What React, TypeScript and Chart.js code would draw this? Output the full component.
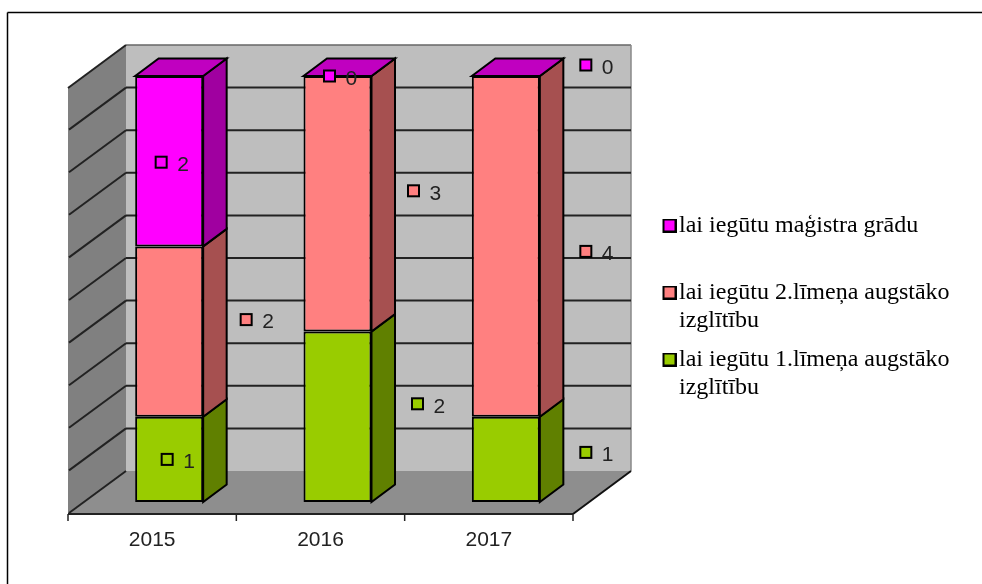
import React, { useEffect, useRef } from "react";
import { Chart, registerables } from "chart.js";

Chart.register(...registerables);

const years = ["2015", "2016", "2017"];
const level1Values = [1, 2, 1];
const level2Values = [2, 3, 4];
const masterValues = [2, 0, 0];
const level1Name = ["lai iegūtu 1.līmeņa augstāko", "izglītību"];
const level2Name = ["lai iegūtu 2.līmeņa augstāko", "izglītību"];
const masterName = ["lai iegūtu maģistra grādu", ""];

// Where each value label sits relative to the centre of its segment.
const level1LabelOffsets = [[-2, 0], [80, -13], [80, -7]];
const level2LabelOffsets = [[77, -12], [76, -13], [80, 5]];
const masterLabelOffsets = [[-8, 1], [-8, 0], [80, -11]];

const GREEN = "#99CC00";
const SALMON = "#FF8080";
const MAGENTA = "#FF00FF";
const sideColors = ["#608000", "#A65050", "#A000A0"];
const TOP_COLOR = "#C000C0";
const labelOffsets = [level1LabelOffsets, level2LabelOffsets, masterLabelOffsets];

// Oblique projection of the 3D box relative to the plane of the bars.
const BAR_DX = 23.5;
const BAR_DY = -17.5;
const BACK_DX = 41;
const BACK_DY = -31;
const FRONT_DX = -17;
const FRONT_DY = 12;

function poly(ctx: CanvasRenderingContext2D, pts: number[][], fill?: string, stroke?: string, lw = 2) {
  ctx.beginPath();
  pts.forEach((p, i) => (i ? ctx.lineTo(p[0], p[1]) : ctx.moveTo(p[0], p[1])));
  ctx.closePath();
  if (fill) {
    ctx.fillStyle = fill;
    ctx.fill();
  }
  if (stroke) {
    ctx.strokeStyle = stroke;
    ctx.lineWidth = lw;
    ctx.lineJoin = "miter";
    ctx.stroke();
  }
}

function line(ctx: CanvasRenderingContext2D, x1: number, y1: number, x2: number, y2: number, color = "#222", lw = 2) {
  ctx.beginPath();
  ctx.moveTo(x1, y1);
  ctx.lineTo(x2, y2);
  ctx.strokeStyle = color;
  ctx.lineWidth = lw;
  ctx.stroke();
}

function legendSwatch(color: string) {
  const c = document.createElement("canvas");
  c.width = 20;
  c.height = 14;
  const g = c.getContext("2d")!;
  g.fillStyle = color;
  g.fillRect(7, 1, 12, 12);
  g.strokeStyle = "#000";
  g.lineWidth = 2;
  g.strokeRect(7, 1, 12, 12);
  return c;
}

const box3d = {
  id: "box3d",
  afterLayout(chart: any) {
    const l = chart.legend;
    const padding = l.options.labels.padding;
    l.left = 666 - padding;
    l.right = 982;
    l.top = 213.5 - padding;
    l.bottom = 584;
  },
  beforeDatasetsDraw(chart: any) {
    const { ctx, chartArea: a, scales } = chart;
    const y = scales.y;
    const bottom = y.getPixelForValue(0);
    const top = y.getPixelForValue(5);
    const fx0 = a.left + FRONT_DX;
    const fx1 = a.right + FRONT_DX;
    const bx0 = a.left + BACK_DX;
    const bx1 = a.right + BACK_DX;
    ctx.save();
    // frame of the chart object
    line(ctx, 7.5, 12.5, 982, 12.5, "#000", 1.5);
    line(ctx, 7.5, 12.5, 7.5, 584, "#000", 1.5);
    // back wall
    poly(ctx, [[bx0, top + BACK_DY], [bx1, top + BACK_DY], [bx1, bottom + BACK_DY], [bx0, bottom + BACK_DY]], "#BEBEBE");
    line(ctx, bx0, top + BACK_DY, bx1, top + BACK_DY, "#666", 1.5);
    line(ctx, bx1, top + BACK_DY, bx1, bottom + BACK_DY, "#888", 1.5);
    // left wall
    poly(ctx, [[fx0, top + FRONT_DY], [bx0, top + BACK_DY], [bx0, bottom + BACK_DY], [fx0, bottom + FRONT_DY]], "#808080");
    // floor
    poly(ctx, [[fx0, bottom + FRONT_DY], [bx0, bottom + BACK_DY], [bx1, bottom + BACK_DY], [fx1, bottom + FRONT_DY]], "#8E8E8E");
    // grid lines on both walls, including the top edge of the left wall
    y.ticks.forEach((t: any) => {
      const py = y.getPixelForValue(t.value);
      if (t.value > 0 && t.value < 5) line(ctx, bx0, py + BACK_DY, bx1, py + BACK_DY);
      line(ctx, fx0 + (t.value === 5 ? 0 : 1), py + FRONT_DY - (t.value === 5 ? 0 : 1), bx0, py + BACK_DY);
    });
    // front and right edge of the floor, axis ticks
    line(ctx, fx0, bottom + FRONT_DY, fx1, bottom + FRONT_DY);
    line(ctx, fx1, bottom + FRONT_DY, bx1, bottom + BACK_DY, "#111");
    const step = (a.right - a.left) / years.length;
    for (let i = 0; i <= years.length; i++) {
      const tx = fx0 + i * step;
      line(ctx, tx, bottom + FRONT_DY, tx, bottom + FRONT_DY + 7, "#222", 1.5);
    }
    ctx.restore();
  },
  afterDatasetsDraw(chart: any) {
    const { ctx } = chart;
    ctx.save();
    const last = chart.data.datasets.length - 1;
    chart.data.datasets.forEach((ds: any, d: number) => {
      chart.getDatasetMeta(d).data.forEach((el: any) => {
        const r = el.x + el.width / 2;
        const l = el.x - el.width / 2;
        poly(ctx, [[r, el.y], [r + BAR_DX, el.y + BAR_DY], [r + BAR_DX, el.base + BAR_DY], [r, el.base]], sideColors[d], "#000");
        if (d === last) {
          poly(ctx, [[l, el.y], [l + BAR_DX, el.y + BAR_DY], [r + BAR_DX, el.y + BAR_DY], [r, el.y]], TOP_COLOR, "#000");
        }
      });
    });
    // value labels with their legend keys
    chart.data.datasets.forEach((ds: any, d: number) => {
      chart.getDatasetMeta(d).data.forEach((el: any, i: number) => {
        const cx = el.x + labelOffsets[d][i][0];
        const cy = (el.y + el.base) / 2 + labelOffsets[d][i][1];
        ctx.fillStyle = ds.backgroundColor;
        ctx.fillRect(cx - 5.5, cy - 5.5, 11, 11);
        ctx.strokeStyle = "#000";
        ctx.lineWidth = 2;
        ctx.strokeRect(cx - 5.5, cy - 5.5, 11, 11);
        ctx.fillStyle = "#222";
        ctx.font = '21px "Liberation Sans"';
        ctx.textAlign = "left";
        ctx.textBaseline = "middle";
        ctx.fillText(String(ds.data[i]), cx + 16, cy + 3);
      });
    });
    ctx.restore();
  },
};

export default function App() {
  const ref = useRef<HTMLCanvasElement>(null);
  useEffect(() => {
    const bar = { borderColor: "#000", borderWidth: 2, borderSkipped: false, barPercentage: 0.404, categoryPercentage: 1, clip: false };
    const chart = new Chart(ref.current!, {
      type: "bar",
      data: {
        labels: years,
        datasets: [
          { label: level1Name.join(" "), data: level1Values, backgroundColor: GREEN, ...bar },
          { label: level2Name.join(" "), data: level2Values, backgroundColor: SALMON, ...bar },
          { label: masterName.join(" "), data: masterValues, backgroundColor: MAGENTA, ...bar },
        ],
      } as any,
      options: {
        responsive: false,
        animation: false,
        layout: { padding: { left: 85, top: 76, right: 112, bottom: 0 } },
        scales: {
          x: {
            stacked: true,
            grid: { display: false, drawTicks: false },
            border: { display: false },
            ticks: { padding: 26, labelOffset: -17, maxRotation: 0, color: "#222", font: { family: '"Liberation Sans"', size: 21 } },
            afterFit: (s: any) => {
              s.height = 82;
            },
          },
          y: { stacked: true, display: false, min: 0, max: 5, ticks: { stepSize: 0.5 } },
        },
        plugins: {
          title: { display: false },
          tooltip: { enabled: false },
          legend: {
            position: "right",
            align: "start",
            maxWidth: 280,
            labels: {
              usePointStyle: true,
              pointStyleWidth: 1,
              boxHeight: 14,
              padding: 11,
              color: "#000",
              font: { family: '"Liberation Serif"', size: 24, lineHeight: 28 / 24 },
              generateLabels: () =>
                [
                  { text: masterName, color: MAGENTA },
                  { text: level2Name, color: SALMON },
                  { text: level1Name, color: GREEN },
                ].map((it) => ({
                  text: it.text,
                  pointStyle: legendSwatch(it.color),
                  fillStyle: it.color,
                  strokeStyle: "#000",
                  lineWidth: 0,
                  hidden: false,
                })) as any,
            },
          },
        },
      } as any,
      plugins: [box3d],
    });
    return () => chart.destroy();
  }, []);
  return <canvas ref={ref} width={982} height={584} style={{ position: "absolute", left: 0, top: 0, display: "block" }} />;
}
